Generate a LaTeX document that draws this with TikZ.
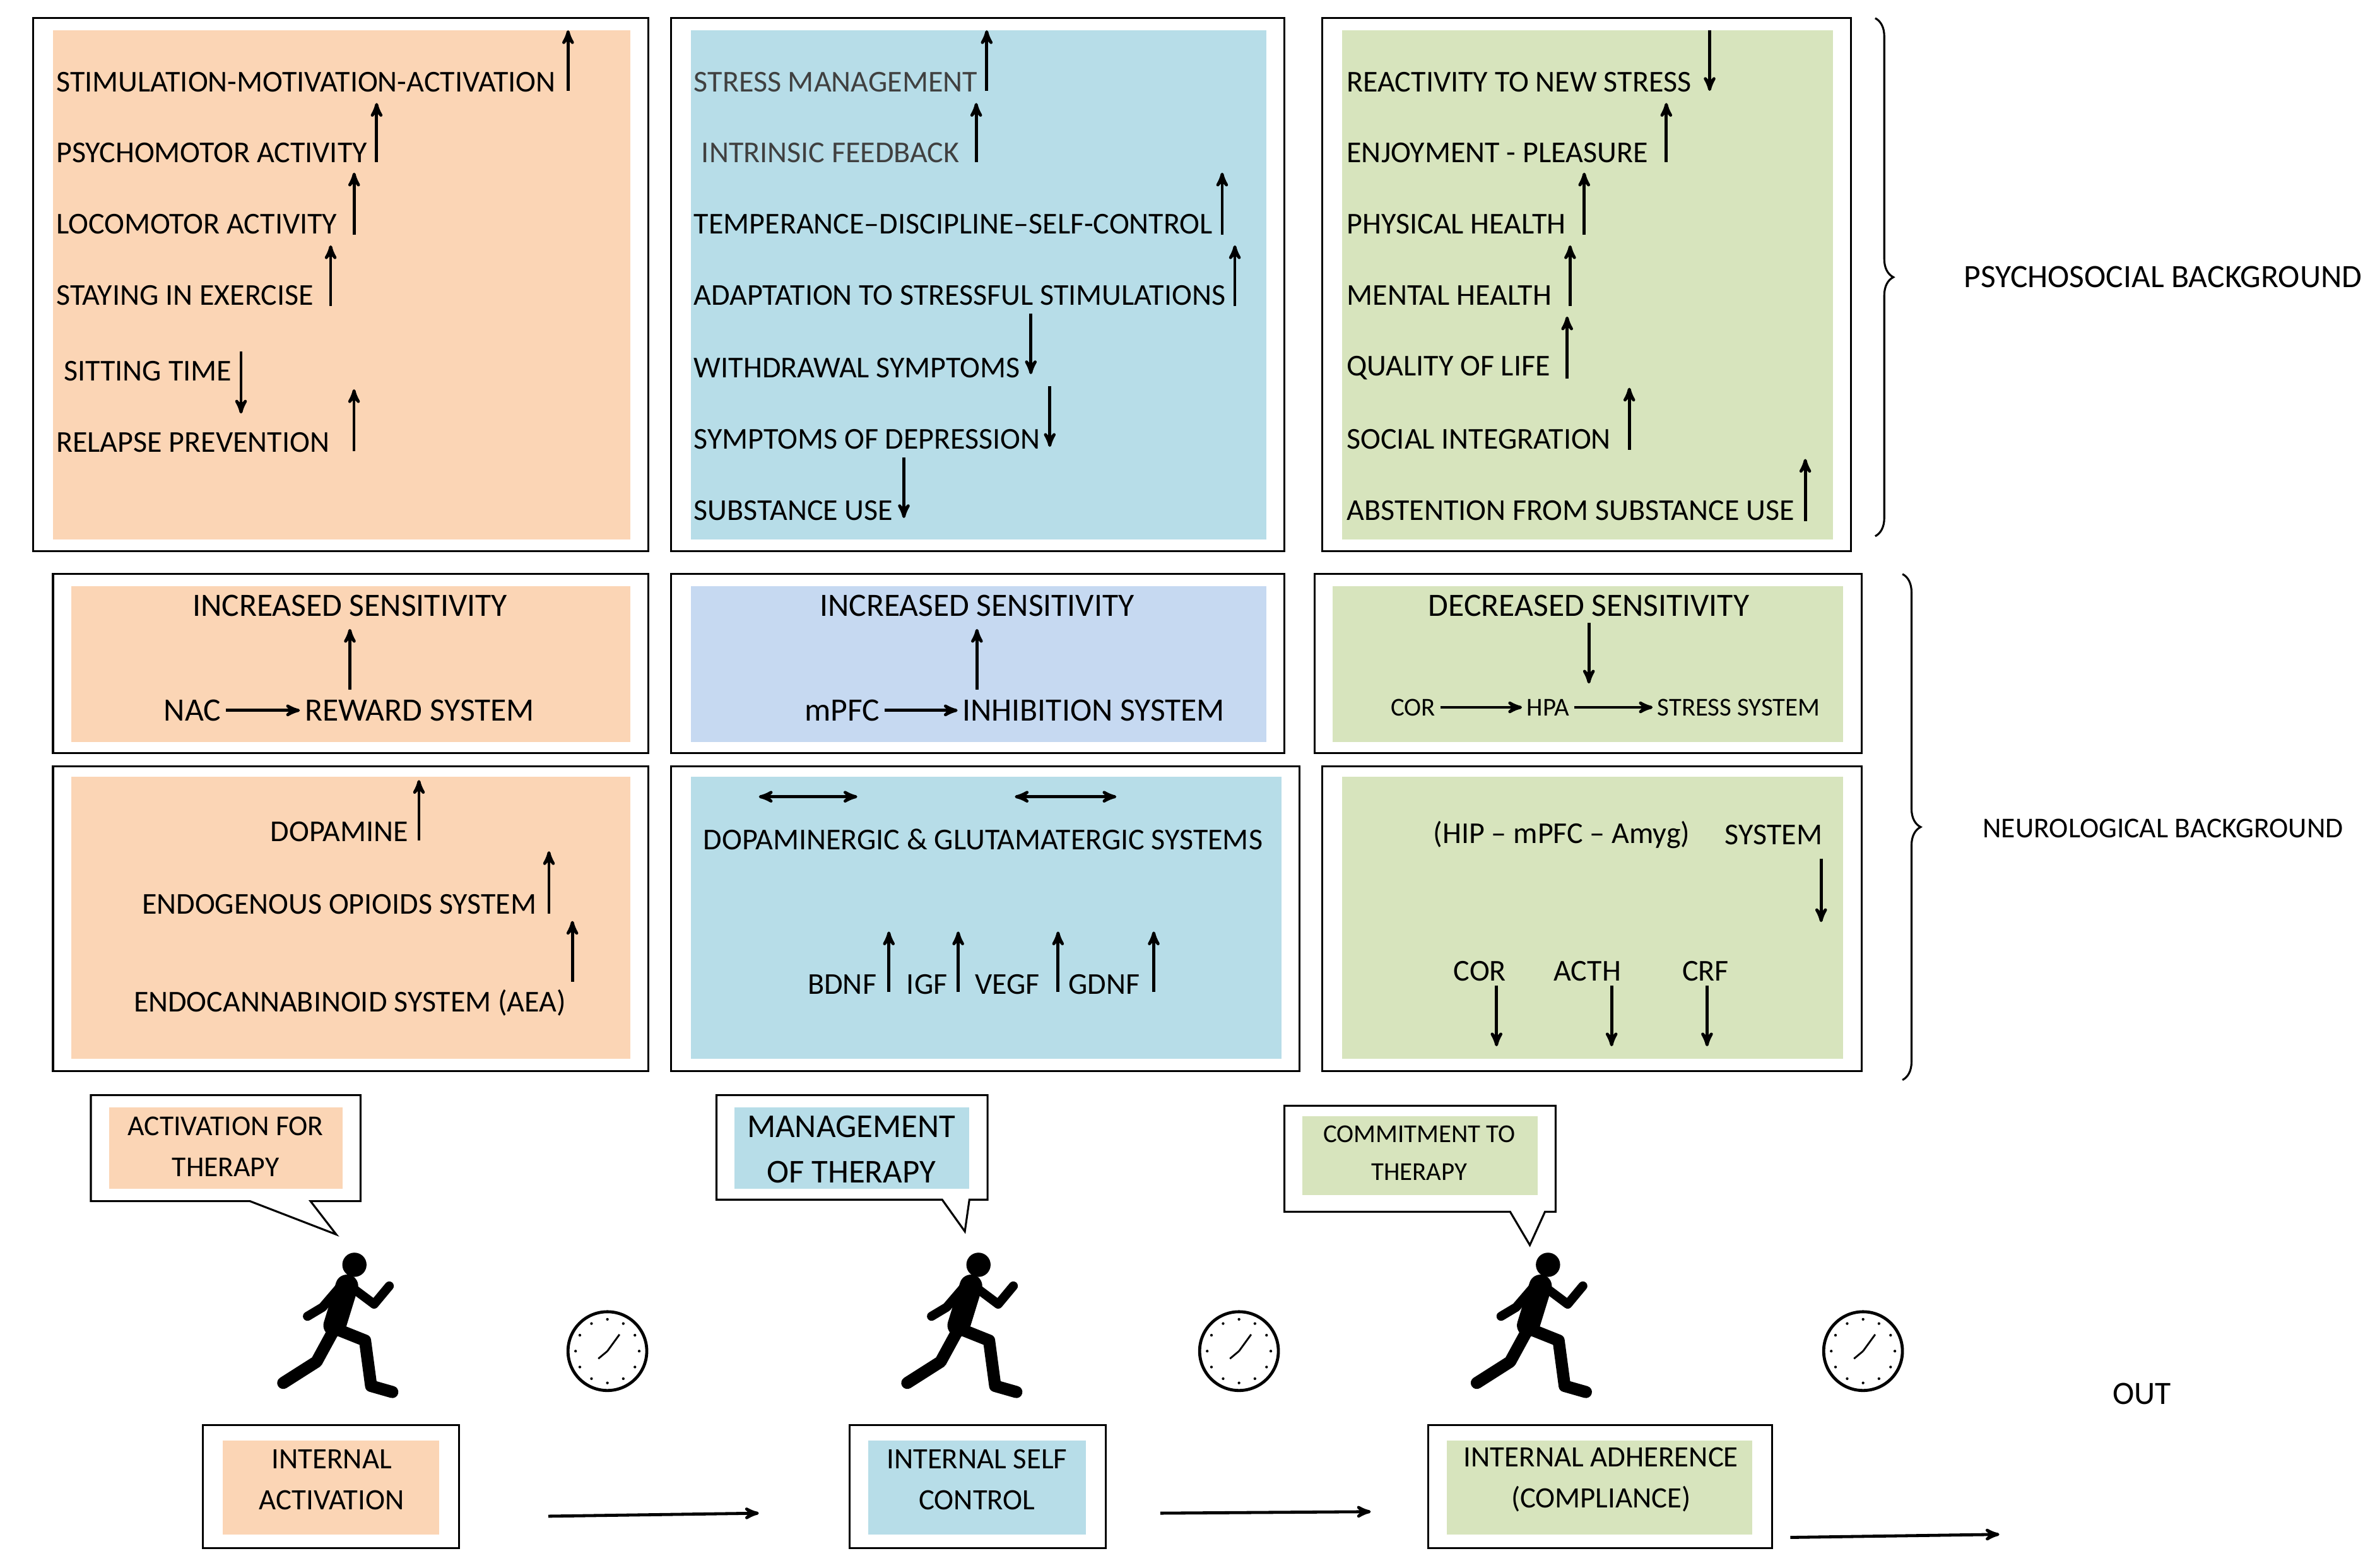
\documentclass[tikz,border=0pt]{standalone}
\usepackage{fontspec}
\setmainfont{Carlito}
\usetikzlibrary{arrows, calc, positioning, decorations.pathreplacing}
\definecolor{peach}{HTML}{FBD5B5}
\definecolor{aqua}{HTML}{B7DDE8}
\definecolor{lav}{HTML}{C6D9F1}
\definecolor{sage}{HTML}{D7E4BD}
\tikzset{>=stealth', x=1pt, y=-1pt,
  outer/.style={draw, line width=1.3pt},
  txt/.style={anchor=west, inner sep=0pt, font=\fontsize{20}{24}\selectfont},
  ctr/.style={inner sep=0pt, align=center, font=\fontsize{20}{24}\selectfont},
  big/.style={font=\fontsize{21.5}{26}\selectfont},
  ind/.style={->, line width=2pt},
  lnk/.style={->, line width=2pt, shorten <=3pt, shorten >=3pt},
  brc/.style={decorate, decoration={brace, amplitude=12pt}, line width=1.3pt}}
\newcommand\ind[4]{\draw[ind] ($(#1.east)+(#2,#3)$) -- ++(0,#4);}
\begin{document}
\begin{tikzpicture}
	\useasboundingbox (0,0) rectangle (1568,1035);
	% top row
	\draw[outer] (22,12) rectangle (428,364); \fill[peach] (35,20) rectangle (416,356);
	\draw[outer] (443,12) rectangle (848,364); \fill[aqua] (456,20) rectangle (836,356);
	\draw[outer] (873,12) rectangle (1222,364); \fill[sage] (886,20) rectangle (1210,356);
	\node[txt] (p1) at (37,54) {STIMULATION-MOTIVATION-ACTIVATION};
	\node[txt] (p2) at (37,101) {PSYCHOMOTOR ACTIVITY};
	\node[txt] (p3) at (37,148) {LOCOMOTOR ACTIVITY};
	\node[txt] (p4) at (37,195) {STAYING IN EXERCISE};
	\node[txt] (p5) at (42,245) {SITTING TIME};
	\node[txt] (p6) at (37,292) {RELAPSE PREVENTION};
	\ind{p1}{8}{6}{-40} \ind{p2}{6}{6}{-39} \ind{p3}{11}{7}{-41}
	\ind{p4}{11}{7}{-40} \ind{p5}{6}{-13}{41} \ind{p6}{16}{6}{-41}
	\node[txt, text=black!75] (q1) at (458,54) {STRESS MANAGEMENT};
	\node[txt, text=black!75] (q2) at (463,101) {INTRINSIC FEEDBACK};
	\node[txt] (q3) at (458,148) {TEMPERANCE--DISCIPLINE--SELF-CONTROL};
	\node[txt] (q4) at (458,195) {ADAPTATION TO STRESSFUL STIMULATIONS};
	\node[txt] (q5) at (458,243) {WITHDRAWAL SYMPTOMS};
	\node[txt] (q6) at (458,290) {SYMPTOMS OF DEPRESSION};
	\node[txt] (q7) at (458,337) {SUBSTANCE USE};
	\ind{q1}{6}{6}{-40} \ind{q2}{11}{6}{-39} \ind{q3}{6}{7}{-41} \ind{q4}{6}{7}{-40}
	\ind{q5}{7}{-36}{40} \ind{q6}{6}{-35}{40} \ind{q7}{7}{-35}{40}
	\node[txt] (r1) at (889,54) {REACTIVITY TO NEW STRESS};
	\node[txt] (r2) at (889,101) {ENJOYMENT - PLEASURE};
	\node[txt] (r3) at (889,148) {PHYSICAL HEALTH};
	\node[txt] (r4) at (889,195) {MENTAL HEALTH};
	\node[txt] (r5) at (889,243) {QUALITY OF LIFE};
	\node[txt] (r6) at (889,290) {SOCIAL INTEGRATION};
	\node[txt] (r7) at (889,337) {ABSTENTION FROM SUBSTANCE USE};
	\ind{r1}{12}{-34}{40} \ind{r2}{12}{6}{-39} \ind{r3}{12}{7}{-41} \ind{r4}{12}{7}{-40}
	\ind{r5}{11}{7}{-41} \ind{r6}{12}{7}{-41} \ind{r7}{7}{7}{-41}
	\draw[brc] (1238,12) -- (1238,354);
	\node[ctr, big] (psy) at (1428,183) {PSYCHOSOCIAL BACKGROUND};
	% middle row
	\draw[outer] (35,379) rectangle (428,497); \fill[peach] (47,387) rectangle (416,490);
	\draw[outer] (443,379) rectangle (848,497); \fill[lav] (456,387) rectangle (836,490);
	\draw[outer] (868,379) rectangle (1229,497); \fill[sage] (880,387) rectangle (1217,490);
	\node[ctr, big] (s1) at (231,400) {INCREASED SENSITIVITY};
	\node[ctr, big] (nac) at (127,469) {NAC};
	\node[ctr, big] (rew) at (277,469) {REWARD SYSTEM};
	\draw[ind] ($(s1.south)+(0,48)$) -- ++(0,-40);
	\draw[lnk] (nac) -- (rew);
	\node[ctr, big] (s2) at (645,400) {INCREASED SENSITIVITY};
	\node[ctr, big] (mpfc) at (556,469) {mPFC};
	\node[ctr, big] (inh) at (722,469) {INHIBITION SYSTEM};
	\draw[ind] ($(s2.south)+(0,48)$) -- ++(0,-40);
	\draw[lnk] (mpfc) -- (inh);
	\node[ctr, big] (s3) at (1049,400) {DECREASED SENSITIVITY};
	\node[ctr, font=\fontsize{17}{20}\selectfont] (cor) at (933,467) {COR};
	\node[ctr, font=\fontsize{17}{20}\selectfont] (hpa) at (1022,467) {HPA};
	\node[ctr, font=\fontsize{17}{20}\selectfont] (str) at (1148,467) {STRESS SYSTEM};
	\draw[ind] ($(s3.south)+(0,4)$) -- ++(0,40);
	\draw[lnk] (cor) -- (hpa);
	\draw[lnk] (hpa) -- (str);
	% bottom row
	\draw[outer] (35,506) rectangle (428,707); \fill[peach] (47,513) rectangle (416,699);
	\draw[outer] (443,506) rectangle (858,707); \fill[aqua] (456,513) rectangle (846,699);
	\draw[outer] (873,506) rectangle (1229,707); \fill[sage] (886,513) rectangle (1217,699);
	\node[ctr] (dop) at (224,549) {DOPAMINE};
	\node[ctr] (opi) at (224,597) {ENDOGENOUS OPIOIDS SYSTEM};
	\node[ctr] (aea) at (231,662) {ENDOCANNABINOID SYSTEM (AEA)};
	\ind{dop}{7}{6}{-40} \ind{opi}{8}{6}{-41} \ind{aea}{4}{-14}{-40}
	\node[ctr] (dg) at (649,554) {DOPAMINERGIC \& GLUTAMATERGIC SYSTEMS};
	\coordinate (d1) at (501,526); \coordinate (d2) at (566,526);
	\coordinate (d3) at (670,526); \coordinate (d4) at (737,526);
	\draw[<->, line width=2pt] (d1) -- (d2);
	\draw[<->, line width=2pt] (d3) -- (d4);
	\node[ctr] (bdnf) at (556,650) {BDNF};
	\node[ctr] (igf) at (612,650) {IGF};
	\node[ctr] (vegf) at (665,650) {VEGF};
	\node[ctr] (gdnf) at (729,650) {GDNF};
	\ind{bdnf}{8}{5}{-40} \ind{igf}{7}{5}{-40} \ind{vegf}{12}{5}{-40} \ind{gdnf}{9}{5}{-40}
	\node[ctr] (hip) at (1031,551) {(HIP -- mPFC -- Amyg)};
	\node[ctr] (sys) at (1171,551) {SYSTEM};
	\draw[ind] ($(sys.south east)+(-1,9)$) -- ++(0,42);
	\node[ctr] (c1) at (977,641) {COR};
	\node[ctr] (c2) at (1048,641) {ACTH};
	\node[ctr] (c3) at (1126,641) {CRF};
	\draw[ind] ($(c1.south)+(11,3)$) -- ++(0,40);
	\draw[ind] ($(c2.south)+(16,3)$) -- ++(0,40);
	\draw[ind] ($(c3.south)+(1,3)$) -- ++(0,40);
	\draw[brc] (1256,379) -- (1256,713);
	\node[ctr, font=\fontsize{19}{23}\selectfont] (neu) at (1428,547) {NEUROLOGICAL BACKGROUND};
	% callouts
	\draw[line width=1.3pt] (60,723) -- (238,723) -- (238,793) -- (205,793) -- (222,815) -- (165,793) -- (60,793) -- cycle;
	\fill[peach] (72,731) rectangle (226,785);
	\node[ctr, font=\fontsize{19}{27}\selectfont] (b1) at (149,757) {ACTIVATION FOR\\THERAPY};
	\draw[line width=1.3pt] (473,723) -- (652,723) -- (652,792) -- (640,792) -- (637,813) -- (622,792) -- (473,792) -- cycle;
	\fill[aqua] (485,731) rectangle (640,785);
	\node[ctr, font=\fontsize{22}{30}\selectfont] (b2) at (562,759) {MANAGEMENT\\OF THERAPY};
	\draw[line width=1.3pt] (848,730) -- (1027,730) -- (1027,800) -- (1020,800) -- (1010,822) -- (997,800) -- (848,800) -- cycle;
	\fill[sage] (860,737) rectangle (1015,789);
	\node[ctr, font=\fontsize{17}{25}\selectfont] (b3) at (937,761) {COMMITMENT TO\\THERAPY};
	% runners and clocks
	\foreach \rx in {225,637,1013} {
		\begin{scope}[shift={(\rx,873)}, line cap=round, line join=round]
			\fill (9,-38) circle (8);
			\draw[line width=15pt] (4,-24) -- (-4,2);
			\draw[line width=6pt] (0,-24) -- (-12,-10) -- (-22,-4);
			\draw[line width=6pt] (6,-24) -- (22,-12) -- (32,-24);
			\draw[line width=8pt] (-4,4) -- (16,12) -- (20,42) -- (34,46);
			\draw[line width=8pt] (-4,4) -- (-16,26) -- (-38,40);
		\end{scope}}
	\foreach \cx in {401,818,1230} {
		\begin{scope}[shift={(\cx,892)}]
			\draw[line width=2pt] (0,0) circle (26);
			\foreach \a in {0,30,...,330} \fill (\a:21) circle (0.9);
			\draw[line width=1.2pt] (0,0) -- (8,-11);
			\draw[line width=1.2pt] (0,0) -- (-6,5);
		\end{scope}}
	% internal states
	\draw[outer] (134,941) rectangle (303,1022); \fill[peach] (147,951) rectangle (290,1013);
	\node[ctr, font=\fontsize{19.5}{27}\selectfont] (ia) at (219,977) {INTERNAL\\ACTIVATION};
	\draw[outer] (561,941) rectangle (730,1022); \fill[aqua] (573,951) rectangle (717,1013);
	\node[ctr, font=\fontsize{19.5}{27}\selectfont] (isc) at (645,977) {INTERNAL SELF\\CONTROL};
	\draw[outer] (943,941) rectangle (1170,1022); \fill[sage] (955,951) rectangle (1157,1013);
	\node[ctr, font=\fontsize{19.5}{27}\selectfont] (iad) at (1057,977) {INTERNAL ADHERENCE\\(COMPLIANCE)};
	\node[ctr, big] (out) at (1414,920) {OUT};
	\coordinate (a1) at (362,1001); \coordinate (a2) at (501,999);
	\coordinate (a3) at (766,999); \coordinate (a4) at (905,998);
	\coordinate (a5) at (1182,1015); \coordinate (a6) at (1320,1013);
	\draw[ind] (a1) -- (a2);
	\draw[ind] (a3) -- (a4);
	\draw[ind] (a5) -- (a6);
\end{tikzpicture}
\end{document}
